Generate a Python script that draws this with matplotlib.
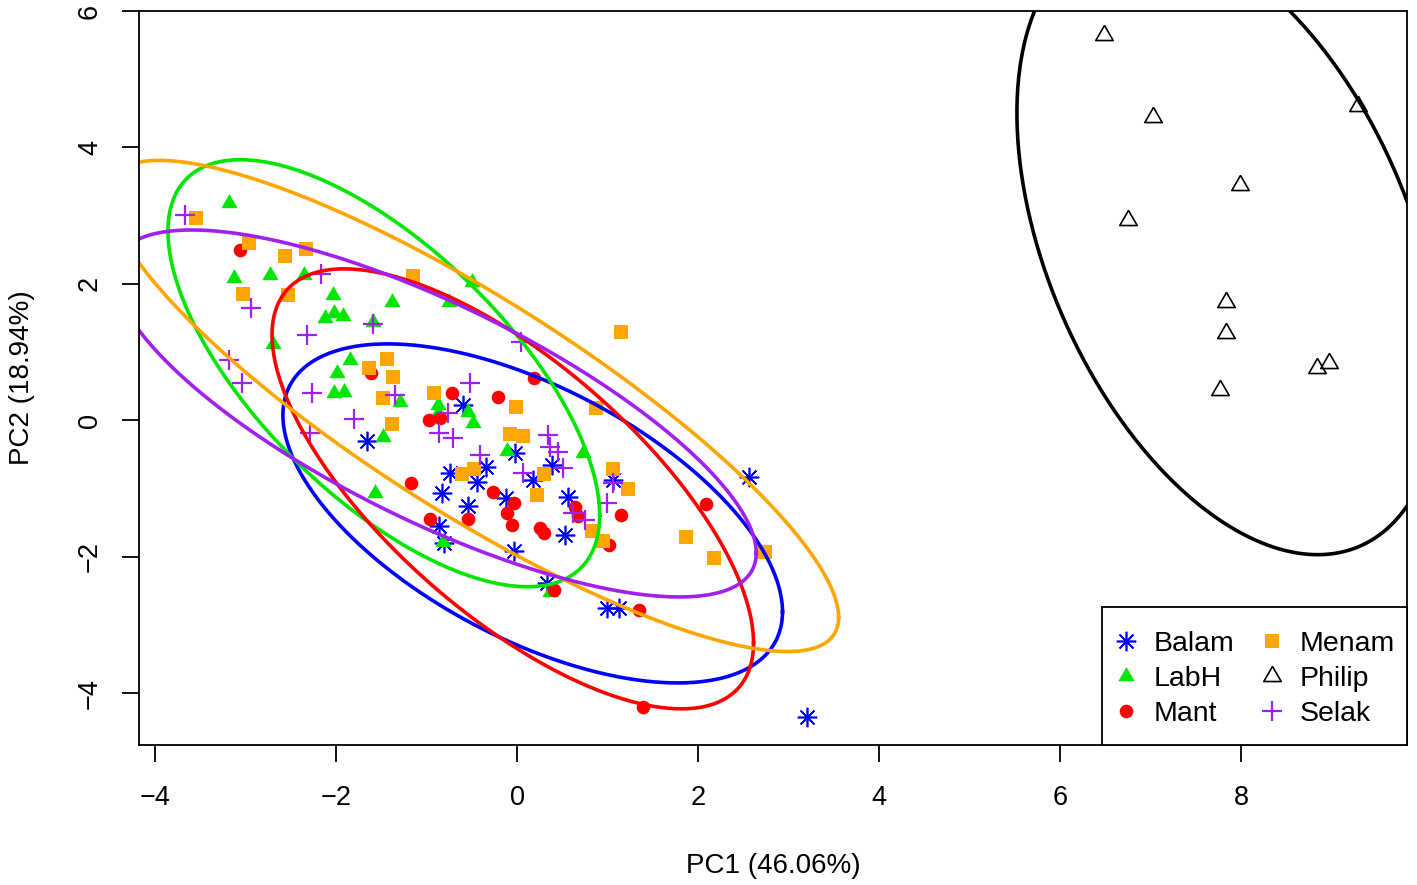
import numpy as np
import matplotlib
matplotlib.use("Agg")
import matplotlib.pyplot as plt
from matplotlib.lines import Line2D
from matplotlib.patches import Rectangle

plt.rcParams['font.family'] = ['Liberation Sans', 'DejaVu Sans']

# ---------------- data ----------------
groups = ["Balam", "LabH", "Mant", "Menam", "Philip", "Selak"]

balam_x = [-1.66, -0.60, -0.03, -0.74, -0.35, -0.44, -0.83, -0.12, -0.54, 0.17, 0.38,
           0.56, 1.06, -0.87, -0.81, -0.04, 0.53, 0.33, 0.99, 1.12, 2.56, 3.20]
balam_y = [-0.30, 0.23, -0.48, -0.77, -0.68, -0.90, -1.06, -1.14, -1.25, -0.87, -0.65,
           -1.12, -0.87, -1.55, -1.80, -1.91, -1.68, -2.38, -2.75, -2.75, -0.83, -4.35]

labh_x = [-3.19, -3.13, -2.73, -2.36, -2.04, -2.12, -2.03, -1.93, -1.38, -1.59, -2.70,
          -1.85, -1.99, -2.03, -1.92, -0.50, -0.76, -1.30, -0.88, -0.88, -0.55, -0.49,
          -1.48, -1.57, -0.11, -0.82, 0.36, 0.73]
labh_y = [3.19, 2.09, 2.13, 2.13, 1.83, 1.50, 1.58, 1.53, 1.74, 1.44, 1.12,
          0.89, 0.70, 0.40, 0.42, 2.02, 1.74, 0.27, 0.23, 0.11, 0.12, -0.04,
          -0.24, -1.06, -0.45, -1.78, -2.51, -0.48]

mant_x = [-3.06, -1.62, -0.72, -0.21, 0.18, -0.98, -0.85, -1.18, -0.27, -0.04, -0.11,
          -0.06, -0.96, -0.54, 0.25, 0.29, 0.64, 0.67, 1.15, 1.01, 0.40, 1.34, 2.09, 1.39]
mant_y = [2.49, 0.70, 0.40, 0.34, 0.62, 0.01, 0.04, -0.92, -1.05, -1.21, -1.36,
          -1.53, -1.44, -1.44, -1.58, -1.65, -1.27, -1.41, -1.39, -1.83, -2.49, -2.78,
          -1.22, -4.20]

menam_x = [-3.55, -2.97, -2.57, -2.34, -3.03, -2.53, -1.15, 1.15, -1.44, -1.64, -1.37,
           -1.48, -1.38, -0.92, -0.01, 0.87, -0.08, 0.06, -0.61, -0.48, 0.30, 0.22,
           1.06, 1.22, 0.83, 0.95, 1.86, 2.17, 2.74]
menam_y = [2.97, 2.60, 2.41, 2.51, 1.85, 1.83, 2.12, 1.30, 0.90, 0.77, 0.64,
           0.33, -0.05, 0.40, 0.20, 0.18, -0.20, -0.23, -0.78, -0.71, -0.78, -1.09,
           -0.71, -1.00, -1.63, -1.77, -1.71, -2.02, -1.93]

philip_x = [6.48, 7.02, 9.29, 7.98, 6.75, 7.83, 7.83, 8.97, 8.84, 7.76]
philip_y = [5.65, 4.44, 4.61, 3.45, 2.94, 1.74, 1.28, 0.84, 0.77, 0.45]

selak_x = [-3.67, -2.17, -2.94, -2.32, -1.59, -3.19, -3.04, -2.27, -1.81, -2.29, 0.04,
           -0.52, -1.35, -0.77, -0.87, -0.71, -0.41, 0.34, 0.36, 0.45, 0.06, 0.50,
           0.62, 0.75, 0.99, 1.06]
selak_y = [3.01, 2.15, 1.65, 1.25, 1.41, 0.89, 0.55, 0.40, 0.02, -0.18, 1.15,
           0.55, 0.37, 0.11, -0.18, -0.26, -0.51, -0.21, -0.39, -0.46, -0.77, -0.70,
           -1.36, -1.46, -1.21, -0.92]

# ellipse parameters per group: centre, x half-extent, y half-extent, correlation
ell_cx = [0.17, -1.475, -0.05, -0.485, 7.86, -0.905]
ell_cy = [-1.365, 0.69, -1.005, 0.21, 2.59, 0.10]
ell_sx = [2.76, 2.385, 2.66, 4.035, 2.34, 3.545]
ell_sy = [2.485, 3.13, 3.225, 3.60, 4.56, 2.69]
ell_rho = [-0.58, -0.665, -0.70, -0.86, -0.42, -0.76]

x_ticks = [-4, -2, 0, 2, 4, 6, 8]
y_ticks = [-4, -2, 0, 2, 4, 6]
x_label = "PC1 (46.06%)"
y_label = "PC2 (18.94%)"

# ---------------- styles ----------------
colors = ['#0000FF', '#00E600', '#FF0000', '#FFA500', '#000000', '#A020F0']
tri = [(0, 1.0), (-0.866, -0.5), (0.866, -0.5), (0, 1.0)]
styles = [
    dict(marker=(8, 2, 0), ms=14, mew=1.2, mfc='none'),
    dict(marker=tri, ms=13.5, mew=0),
    dict(marker='o', ms=9.8, mew=0),
    dict(marker='s', ms=10.5, mew=0),
    dict(marker=tri, ms=14.5, mew=1.2, mfc='none'),
    dict(marker='+', ms=15, mew=1.6),
]
xs = [balam_x, labh_x, mant_x, menam_x, philip_x, selak_x]
ys = [balam_y, labh_y, mant_y, menam_y, philip_y, selak_y]

W, H = 1417, 885
AX_L, AX_R, AX_T, AX_B = 139, 1407, 11, 745
fig = plt.figure(figsize=(W / 100, H / 100), dpi=100)
ax = fig.add_axes([AX_L / W, 1 - AX_B / H, (AX_R - AX_L) / W, (AX_B - AX_T) / H])

for x, y, c, st in zip(xs, ys, colors, styles):
    kw = dict(st)
    mfc = kw.pop('mfc', c)
    ax.plot(x, y, linestyle='none', color=c, mec=c, mfc=mfc, **kw)

t = np.linspace(0, 2 * np.pi, 500)
for cx, cy, sx, sy, r, c in zip(ell_cx, ell_cy, ell_sx, ell_sy, ell_rho, colors):
    ex = cx + sx * np.cos(t)
    ey = cy + sy * (r * np.cos(t) + np.sqrt(1 - r * r) * np.sin(t))
    ax.plot(ex, ey, color=c, lw=2.6)

ax.set_xlim(-4.18, 9.83)
ax.set_ylim(-4.76, 6.0)
ax.set_xticks(x_ticks)
ax.set_yticks(y_ticks)
ax.tick_params(axis='both', direction='out', length=12, width=1.3, labelsize=19.5)
ax.tick_params(axis='x', pad=17)
ax.tick_params(axis='y', pad=14, labelrotation=90)
for lab in ax.get_yticklabels():
    lab.set_va('center')
for sp in ax.spines.values():
    sp.set_linewidth(1.3)

fig.text(773 / W, 1 - 866 / H, x_label, ha='center', va='center', fontsize=20)
fig.text(22 / W, 1 - 378 / H, y_label, ha='center', va='center', rotation=90, fontsize=20)

# legend box (bottom-right corner, touching the axes frame)
LB_L, LB_T = 1102, 607
aw, ah = AX_R - AX_L, AX_B - AX_T
box = Rectangle(((LB_L - AX_L) / aw, 0), (AX_R - LB_L) / aw, (AX_B - LB_T) / ah,
                transform=ax.transAxes, facecolor='white', edgecolor='black',
                lw=1.3, zorder=5, clip_on=False)
ax.add_patch(box)

handles = []
for g, c, st in zip(groups, colors, styles):
    kw = dict(st)
    mfc = kw.pop('mfc', c)
    handles.append(Line2D([], [], linestyle='none', color=c, mec=c, mfc=mfc, label=g, **kw))
leg = ax.legend(handles=handles, loc='center',
                bbox_to_anchor=((1257 - AX_L) / aw, (AX_B - 679) / ah),
                borderaxespad=0, ncol=2, fontsize=20.5, frameon=False,
                handlelength=0.5, handletextpad=0.72, columnspacing=1.08,
                labelspacing=0.3, borderpad=0)
leg.set_zorder(6)

fig.savefig("out.png", dpi=100)
